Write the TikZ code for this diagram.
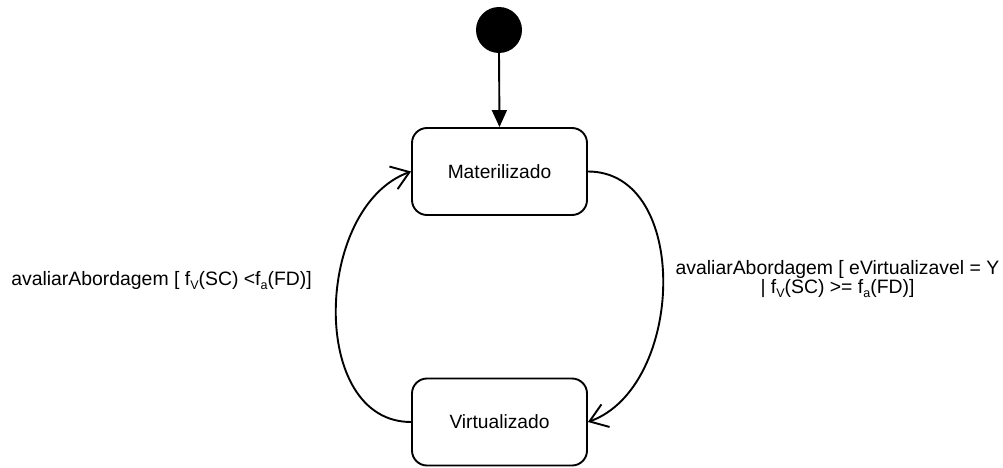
\documentclass[tikz,border=0pt]{standalone}
\usepackage{fontspec}
\setmainfont{Liberation Sans}
\usetikzlibrary{arrows.meta}
% lowered small index used in the guard conditions
\newcommand{\idx}[1]{\raisebox{-4pt}{\fontsize{12.5}{12.5}\selectfont #1}}
\begin{document}
\begin{tikzpicture}[x=1pt,y=1pt,
  state/.style={draw, line width=1.9pt, rounded corners=15pt,
    minimum width=175pt, minimum height=87pt, inner sep=0pt,
    font=\fontsize{19.2}{20}\selectfont},
  startdot/.style={circle, fill=black, minimum size=46pt, inner sep=0pt},
  trans/.style={line width=1.9pt,
    -{Straight Barb[length=17pt,width=24pt]}},
  initflow/.style={line width=1.9pt, -{Triangle[length=17pt,width=15pt]}},
  guard/.style={font=\fontsize{19.4}{16.5}\selectfont, align=center, inner sep=0pt}]
\useasboundingbox (0,0) rectangle (1003,467);

% states
\node[startdot] (init) at (499,437) {};
\node[state] (mat) at (499.5,295.5) {Materilizado};
\node[state] (virt) at (499.5,45) {Virtualizado};

% transitions
\draw[initflow] (init.south) -- (mat.north);
\draw[trans] (virt.west) .. controls +(-103,0) and +(-97,-35) .. (mat.west);
\draw[trans] (mat.east) .. controls +(103,0) and +(97,35) .. (virt.east);

% guard labels
\node[guard, anchor=base] (gback) at (161.5,182)
  {avaliarAbordagem [ f\idx{V}(SC) <f\idx{a}(FD)]};
\node[guard] (gfwd) at (837.5,188)
  {avaliarAbordagem [ eVirtualizavel = Y\\ | f\idx{V}(SC) >= f\idx{a}(FD)]};
\end{tikzpicture}
\end{document}
